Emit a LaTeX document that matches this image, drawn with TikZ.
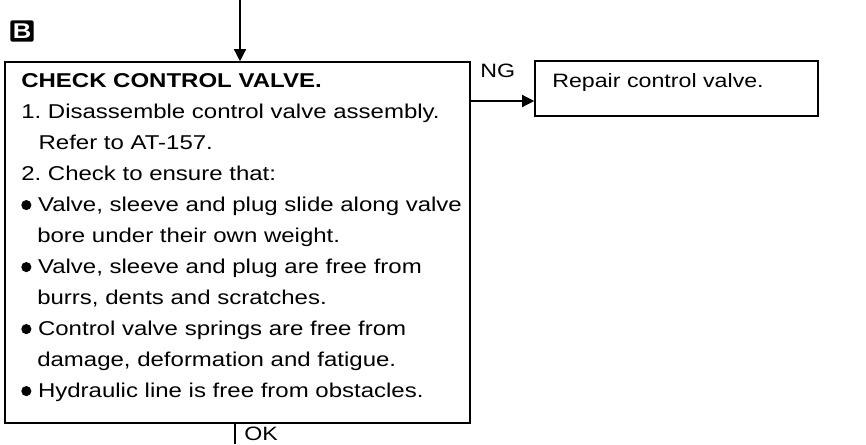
\documentclass[tikz,border=0pt]{standalone}
\usepackage{fontspec}
\setmainfont{Liberation Sans}[FakeStretch=1.2]
\usetikzlibrary{arrows.meta}

\newcommand\pto{\tikz[baseline=-5pt]\fill (0,0) circle (3.8pt);}

\begin{document}
\begin{tikzpicture}[
    x=0.75pt, y=-0.75pt,
    font=\fontsize{14.5}{23.25}\selectfont,
    caja/.style={draw,line width=1.2pt,inner sep=0pt},
    texto/.style={align=left,inner sep=0pt},
    flecha/.style={line width=1pt,-{Triangle[length=9pt,width=9pt]}},
    linea/.style={line width=1pt}]

  \useasboundingbox (0,0) rectangle (866,444);

  \node[fill=black,text=white,rounded corners=1.5pt,inner sep=0pt,
        minimum width=17.5pt,minimum height=16pt,
        font=\fontsize{16}{16}\bfseries\selectfont] (sec) at (22,31) {B};

  \node[caja,minimum width=348.75pt,minimum height=270.75pt] (chk) at (237.5,242.5) {};
  \node[caja,minimum width=212.25pt,minimum height=41.25pt]  (rep) at (676.5,88.5)  {};

  \node[texto,anchor=north west,font=\fontsize{15}{23.25}\selectfont]
       (chktxt) at (21,73.5) {%
    \textbf{CHECK CONTROL VALVE.}\\
    1.\ Disassemble control valve assembly.\\
    \hspace*{13pt}Refer to AT-157.\\
    2.\ Check to ensure that:\\
    \pto\ Valve, sleeve and plug slide along valve\\
    \hspace*{12pt}bore under their own weight.\\
    \pto\ Valve, sleeve and plug are free from\\
    \hspace*{12pt}burrs, dents and scratches.\\
    \pto\ Control valve springs are free from\\
    \hspace*{12pt}damage, deformation and fatigue.\\
    \pto\ Hydraulic line is free from obstacles.};
  \node[texto,anchor=base west] (reptxt) at (552,87) {Repair control valve.};

  \coordinate (ent) at (240,0);
  \coordinate (ng)  at (500,101);
  \coordinate (sal) at (235,444);

  \draw[flecha] (ent) -- (ent |- chk.north);
  \draw[flecha] (chk.east |- ng) -- (rep.west |- ng);
  \draw[linea]  (chk.south -| sal) -- (sal);

  \node[anchor=west,inner sep=0pt] (ngl) at (480,71)  {NG};
  \node[anchor=west,inner sep=0pt] (okl) at (244,434) {OK};

\end{tikzpicture}
\end{document}
